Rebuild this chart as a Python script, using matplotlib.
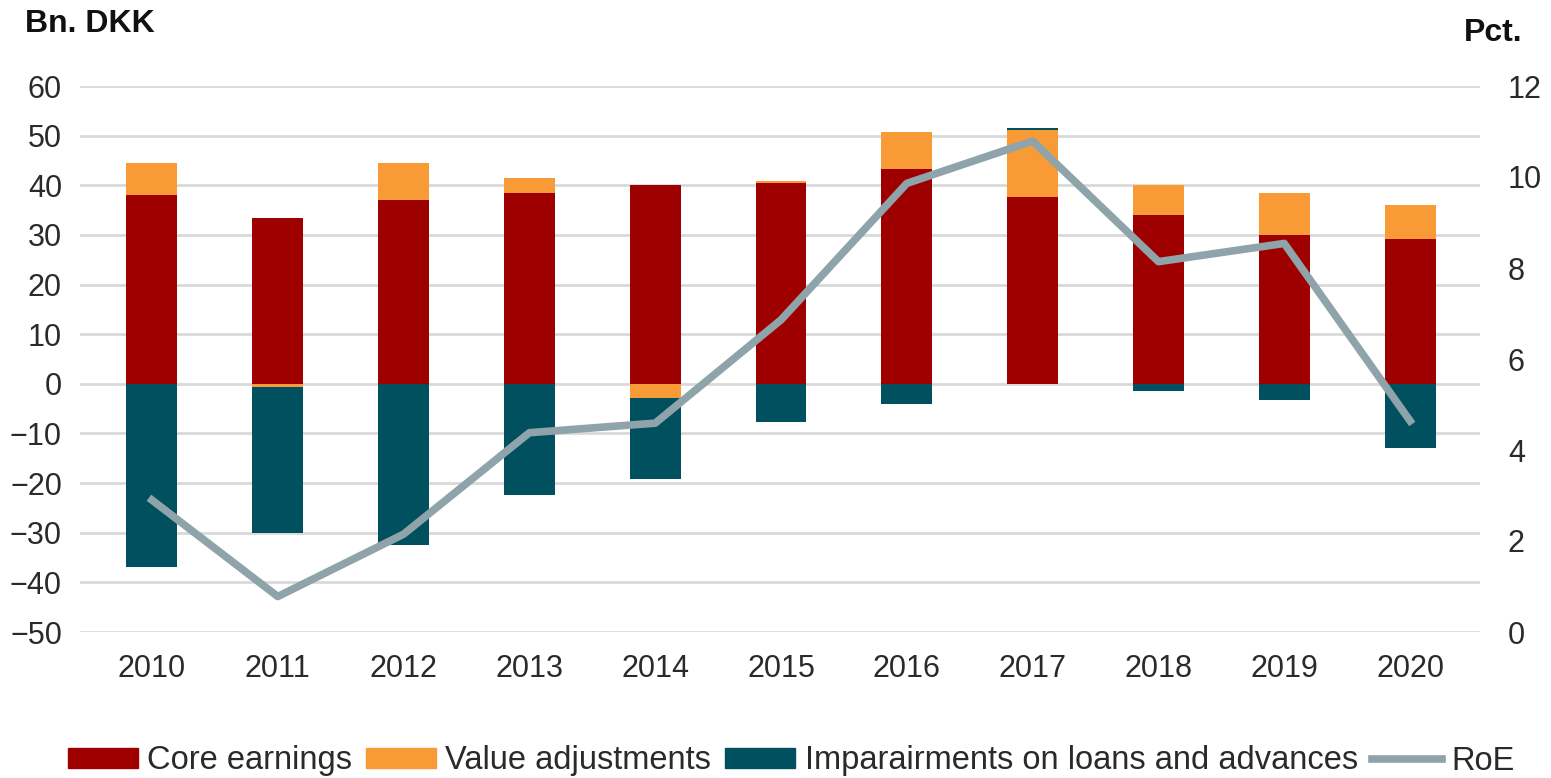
import numpy as np
import matplotlib.pyplot as plt
from matplotlib.patches import Patch
from matplotlib.lines import Line2D

plt.rcParams['font.family'] = ['Liberation Sans', 'DejaVu Sans']

years = ['2010', '2011', '2012', '2013', '2014', '2015', '2016', '2017', '2018', '2019', '2020']
core = [38.0, 33.5, 37.0, 38.4, 40.1, 40.4, 43.3, 37.6, 34.0, 30.0, 29.2]
value_adj = [6.5, -0.6, 7.5, 3.1, -2.8, 0.4, 7.5, 13.6, 6.0, 8.4, 6.9]
impair = [-37.0, -29.4, -32.5, -22.4, -16.4, -7.7, -4.1, 0.4, -1.4, -3.3, -12.9]
roe = [2.9, 0.78, 2.15, 4.38, 4.59, 6.86, 9.86, 10.79, 8.14, 8.54, 4.64]

c_core = '#9e0000'
c_val = '#f89a36'
c_imp = '#00505f'
c_roe = '#8fa3aa'
c_txt = '#2a2a2a'

fig = plt.figure(figsize=(15.51, 7.78), dpi=100)
ax = fig.add_axes([80 / 1551, 1 - 632 / 778, 1400 / 1551, 546 / 778])
x = np.arange(len(years))

# stack positives upward and negatives downward
pos = np.zeros(len(years))
neg = np.zeros(len(years))
for vals, col in [(core, c_core), (value_adj, c_val), (impair, c_imp)]:
    v = np.array(vals)
    base = np.where(v >= 0, pos, neg)
    ax.bar(x, v, 0.405, bottom=base, color=col, zorder=3)
    pos = pos + np.where(v >= 0, v, 0)
    neg = neg + np.where(v < 0, v, 0)

ax.set_xlim(-0.572, 10.556)
ax.set_ylim(-50, 60)
ax.set_yticks(range(-50, 61, 10))
ax.set_xticks(x)
ax.set_xticklabels(years)
ax.grid(axis='y', color='#d9d9d9', linewidth=2, zorder=0)
ax.tick_params(length=0, labelsize=22, colors=c_txt)
ax.tick_params(axis='x', pad=16)
ax.tick_params(axis='y', pad=13)
for s in ax.spines.values():
    s.set_visible(False)

ax2 = ax.twinx()
ax2.plot(x, roe, color=c_roe, linewidth=5.5, zorder=4)
ax2.set_ylim(0, 12)
ax2.set_yticks(range(0, 13, 2))
ax2.tick_params(length=0, labelsize=22, colors=c_txt, pad=20)
for s in ax2.spines.values():
    s.set_visible(False)

fig.text(25 / 1551, 1 - 24 / 778, 'Bn. DKK', fontsize=23, fontweight='bold',
         va='center', color='#111111')
fig.text(1523 / 1551, 1 - 33 / 778, 'Pct.', fontsize=23, fontweight='bold',
         va='center', ha='right', color='#111111')

handles = [Patch(color=c_core), Patch(color=c_val), Patch(color=c_imp),
           Line2D([], [], color=c_roe, linewidth=5.5)]
labels = ['Core earnings', 'Value adjustments', 'Imparairments on loans and advances', 'RoE']
fig.legend(handles, labels, loc='center', bbox_to_anchor=(791 / 1551, 1 - 761 / 778), ncol=4,
           frameon=False, fontsize=23.5, handlelength=2.15, handleheight=0.55,
           handletextpad=0.28, columnspacing=0.43, borderpad=0, labelcolor=c_txt)

fig.savefig('out.png', dpi=100)
